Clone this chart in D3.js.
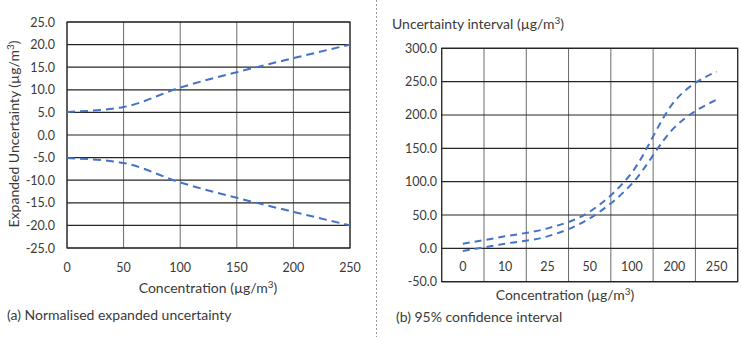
<!DOCTYPE html>
<html>
<head>
<meta charset="utf-8">
<script src="https://cdn.jsdelivr.net/npm/d3@7"></script>
<style>
  body { margin: 0; background: #fff; }
  svg { display: block; font-family: Lato, "Open Sans", sans-serif; }
</style>
</head>
<body>
<div id="chart"></div>
<script>
// (a) normalised expanded uncertainty
const concA = [0, 50, 100, 150, 200, 250];
const upperA = [5.1, 6.2, 10.5, 13.9, 17.0, 20.0];
const lowerA = [-5.1, -6.2, -10.5, -13.9, -17.0, -20.0];
const yTicksA = [25, 20, 15, 10, 5, 0, -5, -10, -15, -20, -25];

// (b) 95% confidence interval
const catsB = ['0', '10', '25', '50', '100', '200', '250'];
const upperB = [7, 18, 30, 55, 114, 220, 265];
const lowerB = [-4, 7, 18, 45, 97, 181, 223];
const yTicksB = [300, 250, 200, 150, 100, 50, 0, -50];

const W = 741, H = 337;
const blue = '#4472c4';
const txt = '#3a3a3a';
const tickSize = '12.5px', titleSize = '14px';
const svg = d3.select('#chart').append('svg').attr('width', W).attr('height', H);

// label text with a superscript 3
const withCube = (sel, label) => {
  sel.append('tspan').text(label + ' (µg/m');
  sel.append('tspan').attr('dy', -5).attr('font-size', '10px').text('3');
  sel.append('tspan').attr('dy', 5).text(')');
};

// ---------- left chart ----------
{
  const x = d3.scaleLinear().domain([0, 250]).range([67, 350]);
  const y = d3.scaleLinear().domain([-25, 25]).range([248, 22]);
  const g = svg.append('g');

  // grid
  g.selectAll('.vx').data(x.ticks(5)).join('line')
    .attr('x1', d => x(d)).attr('x2', d => x(d)).attr('y1', y(25)).attr('y2', y(-25))
    .attr('stroke', '#6b6b6b').attr('stroke-width', 1);
  g.selectAll('.hy').data(yTicksA).join('line')
    .attr('x1', x(0)).attr('x2', x(250)).attr('y1', d => y(d)).attr('y2', d => y(d))
    .attr('stroke', '#262626').attr('stroke-width', 1.2);
  g.append('rect').attr('x', x(0)).attr('y', y(25)).attr('width', x(250) - x(0)).attr('height', y(-25) - y(25))
    .attr('fill', 'none').attr('stroke', '#262626').attr('stroke-width', 1.2);

  // tick labels
  g.selectAll('.yl').data(yTicksA).join('text')
    .attr('x', 55).attr('y', d => y(d) + 4.5).attr('text-anchor', 'end')
    .attr('font-size', tickSize).attr('fill', txt).text(d => d3.format('.1f')(d).replace('−', '-'));
  g.selectAll('.xl').data(x.ticks(5)).join('text')
    .attr('x', d => x(d)).attr('y', 272).attr('text-anchor', 'middle')
    .attr('font-size', tickSize).attr('fill', txt).text(d => d);

  const line = d3.line().x((d, i) => x(concA[i])).y(d => y(d)).curve(d3.curveMonotoneX);
  [upperA, lowerA].forEach(s => {
    g.append('path').datum(s).attr('d', line).attr('fill', 'none')
      .attr('stroke', blue).attr('stroke-width', 2).attr('stroke-dasharray', '8,5');
  });

  g.append('text').attr('x', 208).attr('y', 293).attr('text-anchor', 'middle')
    .attr('font-size', titleSize).attr('fill', txt).call(withCube, 'Concentration');

  g.append('text').attr('transform', 'translate(19,134) rotate(-90)')
    .attr('text-anchor', 'middle').attr('font-size', titleSize).attr('fill', txt)
    .call(withCube, 'Expanded Uncertainty');

  g.append('text').attr('x', 7).attr('y', 320).attr('font-size', titleSize).attr('fill', txt)
    .text('(a) Normalised expanded uncertainty');
}

// divider
svg.append('line').attr('x1', 376.5).attr('x2', 376.5).attr('y1', 0).attr('y2', H)
  .attr('stroke', '#999').attr('stroke-width', 1).attr('stroke-dasharray', '2,2');

// ---------- right chart ----------
{
  const x = d3.scaleBand().domain(catsB).range([441.7, 737.7]).padding(0);
  const y = d3.scaleLinear().domain([-50, 300]).range([281.7, 48.3]);
  const g = svg.append('g');

  const edges = catsB.map(c => x(c)).concat([x.range()[1]]);
  g.selectAll('.vx').data(edges).join('line')
    .attr('x1', d => d).attr('x2', d => d).attr('y1', y(300)).attr('y2', y(-50))
    .attr('stroke', '#6b6b6b').attr('stroke-width', 1);
  g.selectAll('.hy').data(yTicksB).join('line')
    .attr('x1', x.range()[0]).attr('x2', x.range()[1]).attr('y1', d => y(d)).attr('y2', d => y(d))
    .attr('stroke', '#262626').attr('stroke-width', 1.2);
  g.append('rect').attr('x', x.range()[0]).attr('y', y(300))
    .attr('width', x.range()[1] - x.range()[0]).attr('height', y(-50) - y(300))
    .attr('fill', 'none').attr('stroke', '#262626').attr('stroke-width', 1.2);

  g.selectAll('.yl').data(yTicksB).join('text')
    .attr('x', 437).attr('y', d => y(d) + 4.5).attr('text-anchor', 'end')
    .attr('font-size', tickSize).attr('fill', txt).text(d => d3.format('.1f')(d).replace('−', '-'));
  g.selectAll('.xl').data(catsB).join('text')
    .attr('x', d => x(d) + x.bandwidth() / 2).attr('y', 271).attr('text-anchor', 'middle')
    .attr('font-size', tickSize).attr('fill', txt).text(d => d);

  const line = d3.line().x((d, i) => x(catsB[i]) + x.bandwidth() / 2).y(d => y(d)).curve(d3.curveMonotoneX);
  [upperB, lowerB].forEach(s => {
    g.append('path').datum(s).attr('d', line).attr('fill', 'none')
      .attr('stroke', blue).attr('stroke-width', 2).attr('stroke-dasharray', '7,5');
  });

  g.append('text').attr('x', 392).attr('y', 29).attr('font-size', titleSize).attr('fill', txt)
    .call(withCube, 'Uncertainty interval');

  g.append('text').attr('x', 565).attr('y', 300).attr('text-anchor', 'middle')
    .attr('font-size', titleSize).attr('fill', txt).call(withCube, 'Concentration');

  g.append('text').attr('x', 396).attr('y', 322).attr('font-size', titleSize).attr('fill', txt)
    .text('(b) 95% confidence interval');
}
</script>
</body>
</html>
